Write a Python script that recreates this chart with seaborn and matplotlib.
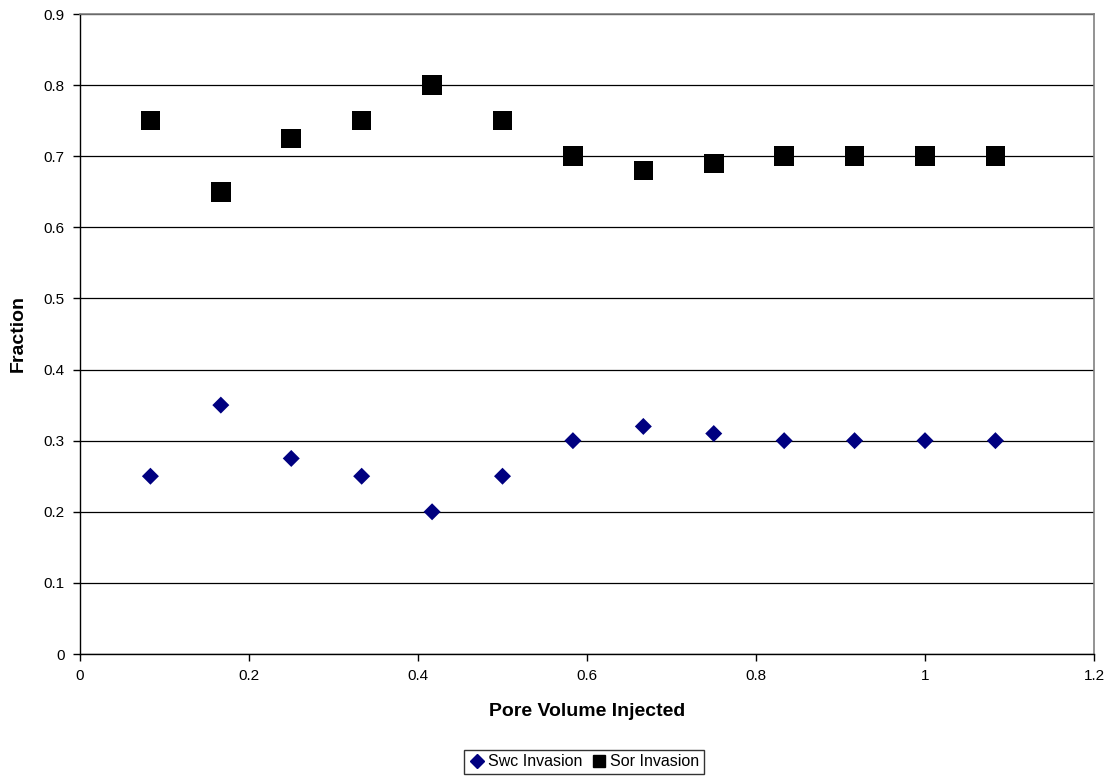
import matplotlib
matplotlib.use("Agg")
import matplotlib.pyplot as plt
import seaborn as sns
import pandas as pd

pv = [1/12, 2/12, 3/12, 4/12, 5/12, 6/12, 7/12, 8/12, 9/12, 10/12, 11/12, 12/12, 13/12]
swc = [0.25, 0.35, 0.275, 0.25, 0.20, 0.25, 0.30, 0.32, 0.31, 0.30, 0.30, 0.30, 0.30]
sor = [0.75, 0.65, 0.725, 0.75, 0.80, 0.75, 0.70, 0.68, 0.69, 0.70, 0.70, 0.70, 0.70]
series_names = ["Swc Invasion", "Sor Invasion"]
xticks = [0, 0.2, 0.4, 0.6, 0.8, 1, 1.2]
yticks = [0, 0.1, 0.2, 0.3, 0.4, 0.5, 0.6, 0.7, 0.8, 0.9]

df = pd.DataFrame({
    "pv": pv * 2,
    "val": swc + sor,
    "series": [series_names[0]] * len(pv) + [series_names[1]] * len(pv),
})

sns.set_style("white")
plt.rcParams["font.family"] = ["Liberation Sans", "DejaVu Sans"]
plt.rcParams["text.color"] = "black"
plt.rcParams["axes.labelcolor"] = "black"
plt.rcParams["xtick.color"] = "black"
plt.rcParams["ytick.color"] = "black"

fig = plt.figure(figsize=(11.07, 7.77), dpi=100)
ax = fig.add_axes([80/1107, 1 - 654/777, (1094-80)/1107, (654-14)/777])

sns.scatterplot(data=df, x="pv", y="val", hue="series", style="series",
                palette={series_names[0]: "#000080", series_names[1]: "#000000"},
                markers={series_names[0]: "D", series_names[1]: "s"},
                size="series", sizes={series_names[0]: 75, series_names[1]: 200},
                edgecolor="none", ax=ax, legend=False, zorder=3)

ax.set_xlim(0, 1.2)
ax.set_ylim(0, 0.9)
ax.set_xticks(xticks)
ax.set_xticklabels(["0", "0.2", "0.4", "0.6", "0.8", "1", "1.2"])
ax.set_yticks(yticks)
ax.set_yticklabels(["0", "0.1", "0.2", "0.3", "0.4", "0.5", "0.6", "0.7", "0.8", "0.9"])
ax.yaxis.grid(True, color="black", linewidth=0.9)
ax.set_axisbelow(True)
for s in ["top", "right"]:
    ax.spines[s].set_color("#808080")
    ax.spines[s].set_linewidth(1.2)
for s in ["left", "bottom"]:
    ax.spines[s].set_color("black")
    ax.spines[s].set_linewidth(1.0)
ax.tick_params(axis="both", direction="out", length=5, width=1, color="black",
               labelcolor="black", labelsize=11, bottom=True, left=True, pad=6)
ax.set_xlabel("Pore Volume Injected", fontsize=14, fontweight="bold", labelpad=14, color="black")
ax.set_ylabel("Fraction", fontsize=14, fontweight="bold", labelpad=12, color="black")

from matplotlib.lines import Line2D
handles = [Line2D([], [], marker="D", color="#000080", linestyle="none", markersize=7),
           Line2D([], [], marker="s", color="black", linestyle="none", markersize=8)]
leg = fig.legend(handles, series_names, loc="center", bbox_to_anchor=(584/1107, 1 - 762/777),
                 ncol=2, frameon=True, fontsize=11.5, handletextpad=0.2, columnspacing=0.5,
                 borderpad=0.3, handlelength=1.0, fancybox=False, borderaxespad=0)
leg.get_frame().set_edgecolor("black")
leg.get_frame().set_linewidth(1.0)
for t in leg.get_texts():
    t.set_color("black")

fig.savefig("out.png", dpi=100)
